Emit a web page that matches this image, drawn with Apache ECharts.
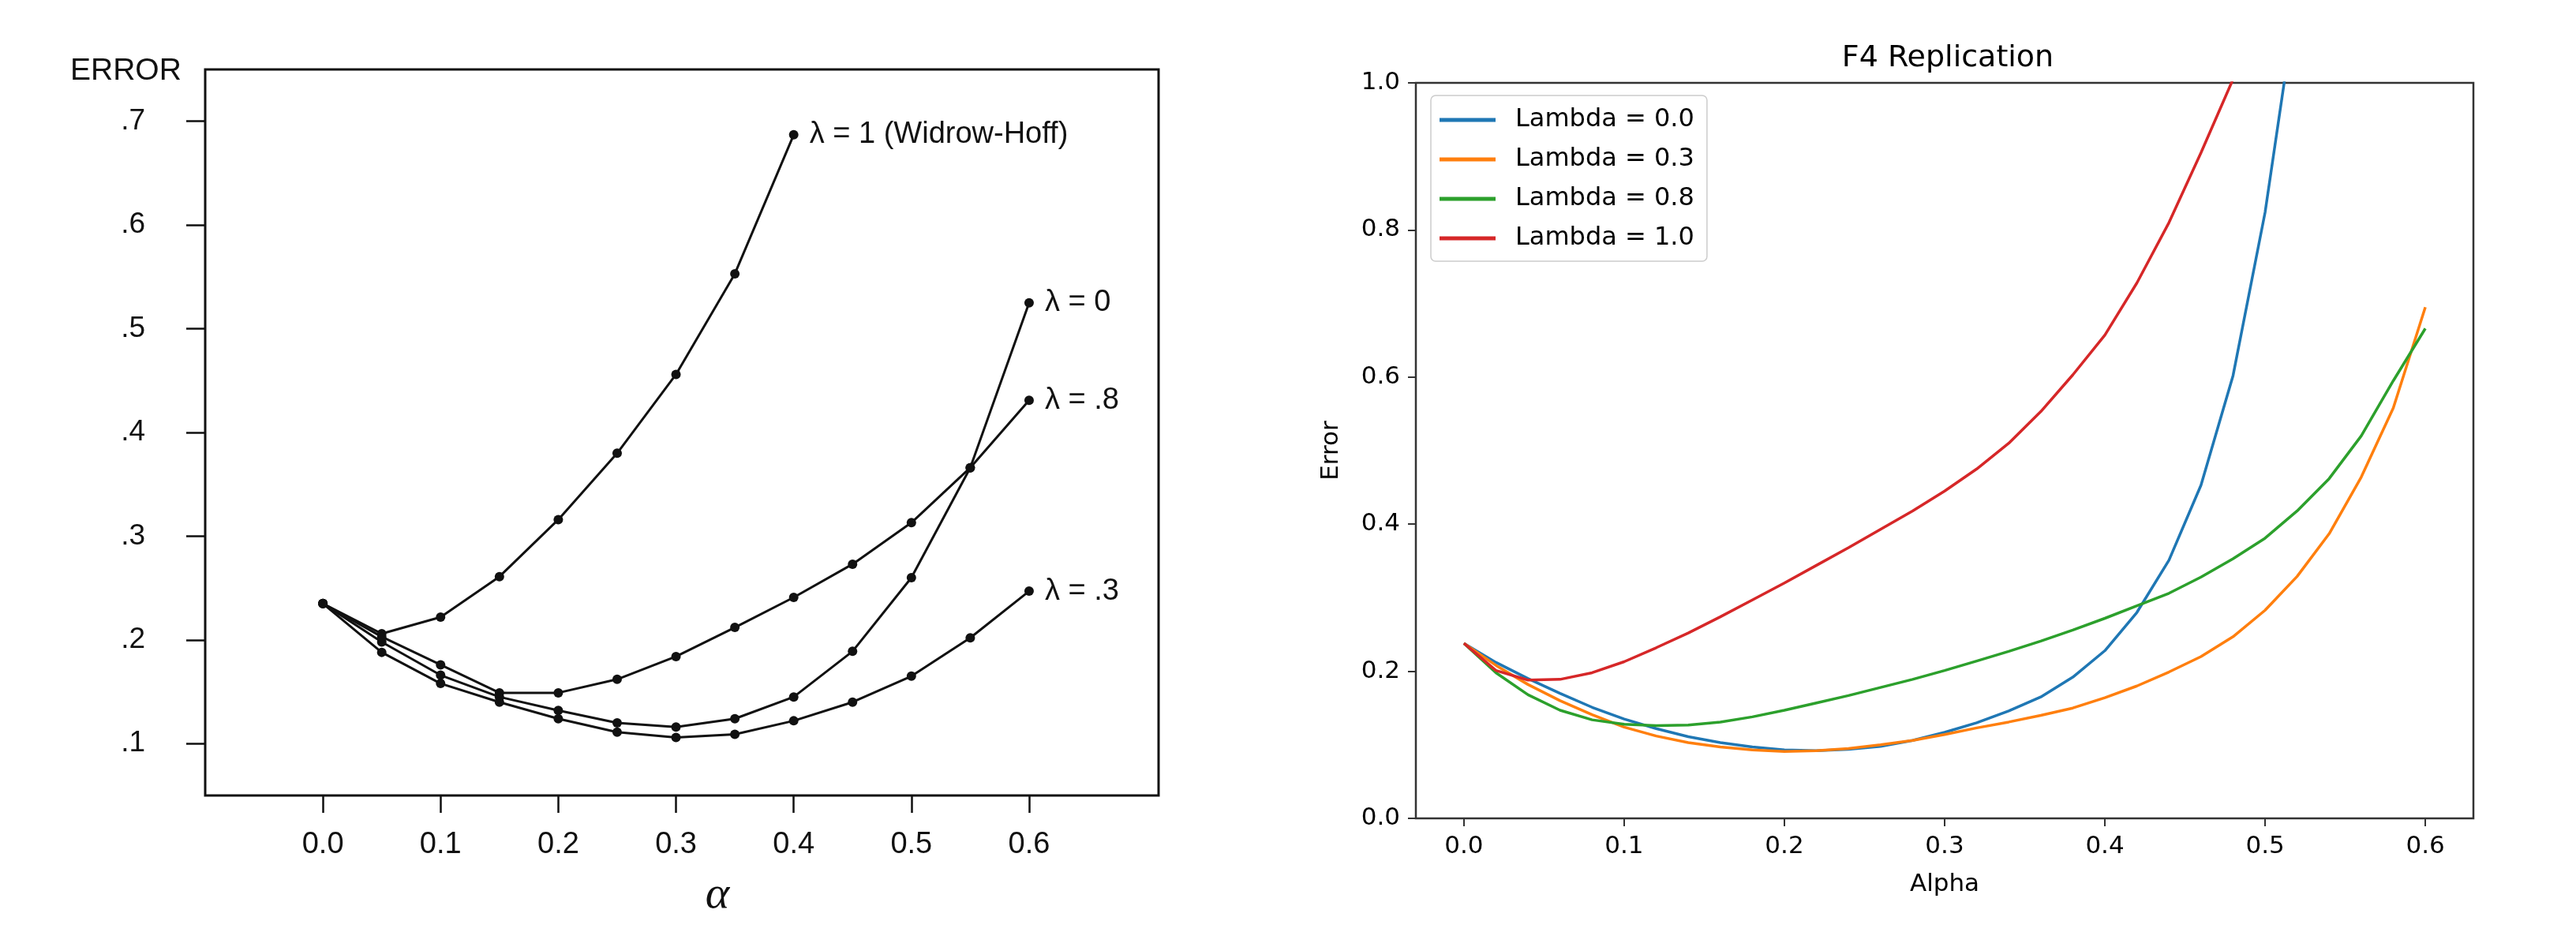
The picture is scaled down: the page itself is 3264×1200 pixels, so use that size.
<!DOCTYPE html>
<html>
<head>
<meta charset="utf-8">
<script src="https://cdn.jsdelivr.net/npm/echarts@6/dist/echarts.min.js"></script>
<style>
html,body{margin:0;padding:0;background:#fff;}
#chart{width:3264px;height:1200px;}
</style>
</head>
<body>
<div id="chart"></div>
<script>
// ---------- Left panel (original figure) ----------
const leftAlpha = [0.0, 0.05, 0.10, 0.15, 0.20, 0.25, 0.30, 0.35, 0.40, 0.45, 0.50, 0.55, 0.60];
const leftLambda1 = [0.235, 0.206, 0.222, 0.261, 0.316, 0.380, 0.456, 0.553, 0.687];
const leftLambda0 = [0.235, 0.198, 0.166, 0.145, 0.132, 0.120, 0.116, 0.124, 0.145, 0.189, 0.260, 0.366, 0.525];
const leftLambda08 = [0.235, 0.203, 0.176, 0.149, 0.149, 0.162, 0.184, 0.212, 0.241, 0.273, 0.313, 0.366, 0.431];
const leftLambda03 = [0.235, 0.188, 0.158, 0.140, 0.124, 0.111, 0.106, 0.109, 0.122, 0.140, 0.165, 0.202, 0.247];
const leftLabels = ['λ = 1 (Widrow-Hoff)', 'λ = 0', 'λ = .8', 'λ = .3'];
const leftXTicks = [0.0, 0.1, 0.2, 0.3, 0.4, 0.5, 0.6];
const leftYTicks = [0.1, 0.2, 0.3, 0.4, 0.5, 0.6, 0.7];

// ---------- Right panel (replication) ----------
const rightAlpha = [0.00, 0.02, 0.04, 0.06, 0.08, 0.10, 0.12, 0.14, 0.16, 0.18, 0.20, 0.22, 0.24, 0.26, 0.28, 0.30,
                    0.32, 0.34, 0.36, 0.38, 0.40, 0.42, 0.44, 0.46, 0.48, 0.50, 0.52, 0.54, 0.56, 0.58, 0.60];
const rightLambda00 = [0.238, 0.212, 0.190, 0.170, 0.151, 0.135, 0.122, 0.111, 0.103, 0.097, 0.093, 0.092, 0.094, 0.098, 0.106, 0.117,
                       0.130, 0.146, 0.165, 0.192, 0.228, 0.280, 0.351, 0.453, 0.602, 0.824, 1.120];
const rightLambda03 = [0.238, 0.208, 0.182, 0.160, 0.141, 0.124, 0.112, 0.103, 0.097, 0.093, 0.091, 0.092, 0.095, 0.100, 0.106, 0.114,
                       0.123, 0.131, 0.140, 0.150, 0.164, 0.180, 0.199, 0.220, 0.247, 0.283, 0.329, 0.387, 0.464, 0.558, 0.695];
const rightLambda08 = [0.238, 0.198, 0.168, 0.147, 0.134, 0.128, 0.126, 0.127, 0.131, 0.138, 0.147, 0.157, 0.167, 0.178, 0.189, 0.201,
                       0.214, 0.227, 0.241, 0.256, 0.272, 0.289, 0.306, 0.328, 0.353, 0.381, 0.418, 0.462, 0.520, 0.595, 0.666];
const rightLambda10 = [0.238, 0.201, 0.188, 0.189, 0.198, 0.213, 0.232, 0.252, 0.274, 0.297, 0.320, 0.344, 0.368, 0.393, 0.418, 0.445,
                       0.475, 0.510, 0.553, 0.603, 0.657, 0.728, 0.810, 0.905, 1.005, 1.120];
const rightNames = ['Lambda = 0.0', 'Lambda = 0.3', 'Lambda = 0.8', 'Lambda = 1.0'];
const rightColors = ['#1f77b4', '#ff7f0e', '#2ca02c', '#d62728'];
const rightXTicks = [0.0, 0.1, 0.2, 0.3, 0.4, 0.5, 0.6];

function pairs(xs, ys) { return ys.map((y, i) => [xs[i], y]); }

const leftFont = 'Liberation Sans';
const mplFont = 'DejaVu Sans';

function leftSeries(values, label) {
  return {
    type: 'line', xAxisIndex: 0, yAxisIndex: 0,
    data: pairs(leftAlpha, values),
    symbol: 'circle', symbolSize: 12,
    itemStyle: { color: '#111' },
    lineStyle: { color: '#111', width: 3 },
    endLabel: { show: true, formatter: label, distance: 20, color: '#111', fontSize: 38, fontFamily: leftFont },
    animation: false, silent: true
  };
}
function rightSeries(values, i) {
  return {
    type: 'line', name: rightNames[i], xAxisIndex: 1, yAxisIndex: 1,
    data: pairs(rightAlpha, values),
    symbol: 'none', showSymbol: false, clip: true,
    itemStyle: { color: rightColors[i] },
    lineStyle: { color: rightColors[i], width: 3.5 },
    animation: false, silent: true
  };
}

const chart = echarts.init(document.getElementById('chart'), null, { renderer: 'canvas' });
chart.setOption({
  backgroundColor: '#ffffff',
  animation: false,
  title: [{
    text: 'F4 Replication', left: 2463, top: 50, textAlign: 'center',
    textStyle: { fontFamily: mplFont, fontSize: 38, fontWeight: 'normal', color: '#000' }
  }, {
    text: 'ERROR', left: 84, top: 66,
    textStyle: { fontFamily: leftFont, fontSize: 39, fontWeight: 'normal', color: '#111' }
  }],
  legend: {
    data: rightNames, orient: 'vertical', left: 1813, top: 121,
    padding: [15, 16, 13, 11], itemGap: 18, itemWidth: 71, itemHeight: 5,
    backgroundColor: 'rgba(255,255,255,0.8)', borderColor: '#cccccc', borderWidth: 1.5, borderRadius: 6,
    textStyle: { fontFamily: mplFont, fontSize: 32, color: '#000', lineHeight: 32, padding: [0, 0, 0, 20] },
    icon: 'rect', itemStyle: { borderWidth: 0 },
    selectedMode: false
  },
  grid: [
    { left: 260, top: 88, width: 1208, height: 920, show: true, borderColor: '#111', borderWidth: 3, backgroundColor: 'transparent' },
    { left: 1794, top: 105, width: 1340, height: 932, show: true, borderColor: '#333', borderWidth: 2.5, backgroundColor: 'transparent' }
  ],
  xAxis: [
    {
      gridIndex: 0, type: 'value', min: -0.1, max: 0.71,
      name: 'α', nameLocation: 'middle', nameGap: 98,
      nameTextStyle: { fontFamily: 'Liberation Serif', fontStyle: 'italic', fontSize: 58, color: '#111', padding: [0, 0, 0, 90] },
      axisLine: { show: false, onZero: false }, splitLine: { show: false },
      axisTick: { show: true, inside: false, length: 22, customValues: leftXTicks, lineStyle: { color: '#111', width: 2.5 } },
      axisLabel: { customValues: leftXTicks, margin: 44, fontFamily: leftFont, fontSize: 38, color: '#111', formatter: v => v.toFixed(1) }
    },
    {
      gridIndex: 1, type: 'value', min: -0.03, max: 0.63,
      name: 'Alpha', nameLocation: 'middle', nameGap: 68,
      nameTextStyle: { fontFamily: mplFont, fontSize: 31, color: '#000' },
      axisLine: { show: false, onZero: false }, splitLine: { show: false },
      axisTick: { show: true, inside: false, length: 10, customValues: rightXTicks, lineStyle: { color: '#333', width: 2 } },
      axisLabel: { customValues: rightXTicks, margin: 20, fontFamily: mplFont, fontSize: 31, color: '#000', formatter: v => v.toFixed(1) }
    }
  ],
  yAxis: [
    {
      gridIndex: 0, type: 'value', min: 0.05, max: 0.75,
      axisLine: { show: false, onZero: false }, splitLine: { show: false },
      axisTick: { show: true, inside: false, length: 24, customValues: leftYTicks, lineStyle: { color: '#111', width: 2.5 } },
      axisLabel: { customValues: leftYTicks, margin: 76, fontFamily: leftFont, fontSize: 37, color: '#111', formatter: v => '.' + Math.round(v * 10) }
    },
    {
      gridIndex: 1, type: 'value', min: 0, max: 1, interval: 0.2,
      name: 'Error', nameLocation: 'middle', nameGap: 92,
      nameTextStyle: { fontFamily: mplFont, fontSize: 31, color: '#000' },
      axisLine: { show: false, onZero: false }, splitLine: { show: false },
      axisTick: { show: true, inside: false, length: 10, lineStyle: { color: '#333', width: 2 } },
      axisLabel: { margin: 20, fontFamily: mplFont, fontSize: 31, color: '#000', formatter: v => v.toFixed(1) }
    }
  ],
  series: [
    leftSeries(leftLambda1, leftLabels[0]),
    leftSeries(leftLambda0, leftLabels[1]),
    leftSeries(leftLambda08, leftLabels[2]),
    leftSeries(leftLambda03, leftLabels[3]),
    rightSeries(rightLambda00, 0),
    rightSeries(rightLambda03, 1),
    rightSeries(rightLambda08, 2),
    rightSeries(rightLambda10, 3)
  ]
});
</script>
</body>
</html>
